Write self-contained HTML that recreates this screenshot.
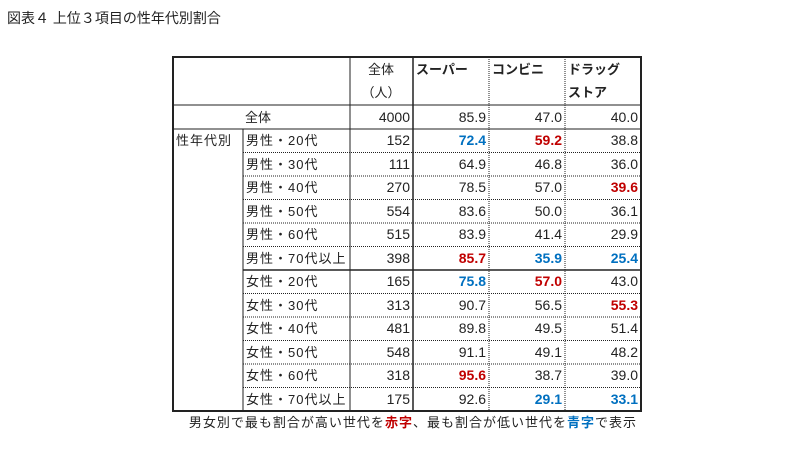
<!DOCTYPE html>
<html><head><meta charset="utf-8"><style>
html,body{margin:0;padding:0;background:#fff;}
svg text{font-family:"Liberation Sans","Noto Sans CJK JP",sans-serif;font-size:13px;fill:#222;}
.b{font-weight:bold;}
.r{fill:#c00000;font-weight:bold;}
.u{fill:#0070c0;font-weight:bold;}
.lb{letter-spacing:1px;}
.n text{font-size:14px;}
</style></head><body>
<svg width="810" height="462" xmlns="http://www.w3.org/2000/svg">
<text x="7" y="23" style="font-size:14px">図表４ 上位３項目の性年代別割合</text>
<g stroke="#222" fill="none">
<rect x="173" y="57" width="468" height="354" stroke-width="2"/>
<line x1="173" y1="105" x2="641" y2="105"/>
<line x1="173" y1="129" x2="641" y2="129"/>
<line x1="243" y1="129" x2="243" y2="411"/>
<line x1="350" y1="57" x2="350" y2="411"/>
<line x1="413" y1="57" x2="413" y2="411" stroke-width="1.5"/>
<line x1="489" y1="57" x2="489" y2="411" stroke-dasharray="1,1"/>
<line x1="565" y1="57" x2="565" y2="411" stroke-dasharray="1,1"/>
<line x1="243" y1="270" x2="641" y2="270" stroke-width="1.5"/>
<g stroke-dasharray="1,1">
<line x1="243" y1="152.5" x2="641" y2="152.5"/><line x1="243" y1="176" x2="641" y2="176"/>
<line x1="243" y1="199.5" x2="641" y2="199.5"/><line x1="243" y1="223" x2="641" y2="223"/>
<line x1="243" y1="246.5" x2="641" y2="246.5"/>
<line x1="243" y1="293.5" x2="641" y2="293.5"/><line x1="243" y1="317" x2="641" y2="317"/>
<line x1="243" y1="340.5" x2="641" y2="340.5"/><line x1="243" y1="364" x2="641" y2="364"/>
<line x1="243" y1="387.5" x2="641" y2="387.5"/>
</g></g>
<text x="381" y="74" text-anchor="middle">全体</text>
<text x="381" y="97" text-anchor="middle">（人）</text>
<text x="416" y="74" class="b">スーパー</text>
<text x="492" y="74" class="b">コンビニ</text>
<text x="568" y="74" class="b">ドラッグ</text>
<text x="568" y="97" class="b">ストア</text>
<text x="258" y="122" text-anchor="middle">全体</text>
<text x="176" y="145" class="lb">性年代別</text>
<text x="637" y="427" text-anchor="end" class="lb">男女別で最も割合が高い世代を<tspan class="r">赤字</tspan>、最も割合が低い世代を<tspan class="u">青字</tspan>で表示</text>
<g text-anchor="end" class="n">
<text x="410" y="122">4000</text><text x="486" y="122">85.9</text><text x="562" y="122">47.0</text><text x="638" y="122">40.0</text>
</g>
<g class="lb">
<text x="246" y="145">男性・20代</text><text x="246" y="169">男性・30代</text><text x="246" y="192">男性・40代</text>
<text x="246" y="216">男性・50代</text><text x="246" y="239">男性・60代</text><text x="246" y="263">男性・70代以上</text>
<text x="246" y="286">女性・20代</text><text x="246" y="310">女性・30代</text><text x="246" y="333">女性・40代</text>
<text x="246" y="357">女性・50代</text><text x="246" y="380">女性・60代</text><text x="246" y="404">女性・70代以上</text>
</g>
<g text-anchor="end" class="n">
<text x="410" y="145">152</text><text x="486" y="145" class="u">72.4</text><text x="562" y="145" class="r">59.2</text><text x="638" y="145">38.8</text>
<text x="410" y="169">111</text><text x="486" y="169">64.9</text><text x="562" y="169">46.8</text><text x="638" y="169">36.0</text>
<text x="410" y="192">270</text><text x="486" y="192">78.5</text><text x="562" y="192">57.0</text><text x="638" y="192" class="r">39.6</text>
<text x="410" y="216">554</text><text x="486" y="216">83.6</text><text x="562" y="216">50.0</text><text x="638" y="216">36.1</text>
<text x="410" y="239">515</text><text x="486" y="239">83.9</text><text x="562" y="239">41.4</text><text x="638" y="239">29.9</text>
<text x="410" y="263">398</text><text x="486" y="263" class="r">85.7</text><text x="562" y="263" class="u">35.9</text><text x="638" y="263" class="u">25.4</text>
<text x="410" y="286">165</text><text x="486" y="286" class="u">75.8</text><text x="562" y="286" class="r">57.0</text><text x="638" y="286">43.0</text>
<text x="410" y="310">313</text><text x="486" y="310">90.7</text><text x="562" y="310">56.5</text><text x="638" y="310" class="r">55.3</text>
<text x="410" y="333">481</text><text x="486" y="333">89.8</text><text x="562" y="333">49.5</text><text x="638" y="333">51.4</text>
<text x="410" y="357">548</text><text x="486" y="357">91.1</text><text x="562" y="357">49.1</text><text x="638" y="357">48.2</text>
<text x="410" y="380">318</text><text x="486" y="380" class="r">95.6</text><text x="562" y="380">38.7</text><text x="638" y="380">39.0</text>
<text x="410" y="404">175</text><text x="486" y="404">92.6</text><text x="562" y="404" class="u">29.1</text><text x="638" y="404" class="u">33.1</text>
</g>
</svg>
</body></html>
